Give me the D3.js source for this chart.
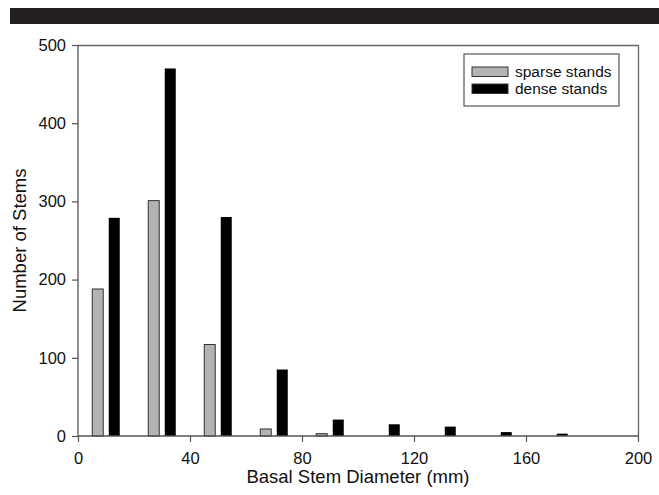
<!DOCTYPE html>
<html>
<head>
<meta charset="utf-8">
<script src="https://cdn.jsdelivr.net/npm/d3@7"></script>
<style>
  body { margin: 0; background: #fff; }
  svg text { font-family: 'Liberation Sans', Arial, sans-serif; fill: #111; }
</style>
</head>
<body>
<div id="chart"></div>
<script>
// bin midpoints (mm) and stem counts per bin
const binMids = [10, 30, 50, 70, 90, 110, 130, 150, 170]
const sparse = [188, 301, 117, 9, 3, 0, 0, 0, 0]
const dense = [279, 470, 280, 85, 21, 15, 12, 5, 3]
const xTicks = [0, 40, 80, 120, 160, 200]
const yTicks = [0, 100, 200, 300, 400, 500]
const seriesNames = ['sparse stands', 'dense stands']

const W = 659
const H = 495
const margin = { top: 45, right: 21, bottom: 59, left: 78 }
const width = W - margin.left - margin.right
const height = H - margin.top - margin.bottom

const svgRoot = d3
  .select('#chart')
  .append('svg')
  .attr('width', W)
  .attr('height', H)

// dark banner across the top
svgRoot
  .append('rect')
  .attr('x', 10)
  .attr('y', 8)
  .attr('width', W - 10)
  .attr('height', 16)
  .attr('fill', '#231f20')

const svg = svgRoot
  .append('g')
  .attr('transform', 'translate(' + margin.left + ',' + margin.top + ')')

const xPositionScale = d3.scaleLinear().domain([0, 200]).range([0, width])
const yPositionScale = d3.scaleLinear().domain([0, 500]).range([height, 0])

const colorScale = d3
  .scaleOrdinal()
  .domain(seriesNames)
  .range(['#b3b3b3', '#000000'])

const barW = 11
const offset = 2.95

const rows = binMids.map((m, i) => ({ mid: m, sparse: sparse[i], dense: dense[i] }))

// frame on top and right
svg
  .append('path')
  .attr('d', 'M0,0.5H' + (width + 0.5) + 'V' + height)
  .attr('fill', 'none')
  .attr('stroke', '#666')
  .attr('stroke-width', 1.3)

// sparse bars
svg
  .selectAll('.sparse')
  .data(rows.filter(d => d.sparse > 0))
  .enter()
  .append('rect')
  .attr('class', 'sparse')
  .attr('x', d => xPositionScale(d.mid - offset) - barW / 2)
  .attr('y', d => yPositionScale(d.sparse))
  .attr('width', barW)
  .attr('height', d => height - yPositionScale(d.sparse))
  .attr('fill', colorScale('sparse stands'))
  .attr('stroke', '#333')
  .attr('stroke-width', 1)

// dense bars
svg
  .selectAll('.dense')
  .data(rows.filter(d => d.dense > 0))
  .enter()
  .append('rect')
  .attr('class', 'dense')
  .attr('x', d => xPositionScale(d.mid + offset) - barW / 2)
  .attr('y', d => yPositionScale(d.dense))
  .attr('width', barW)
  .attr('height', d => height - yPositionScale(d.dense))
  .attr('fill', colorScale('dense stands'))

const xAxis = d3
  .axisBottom(xPositionScale)
  .tickValues(xTicks)
  .tickSize(6)
  .tickPadding(10)

svg
  .append('g')
  .attr('class', 'axis x-axis')
  .attr('transform', 'translate(0,' + height + ')')
  .call(xAxis)

const yAxis = d3
  .axisLeft(yPositionScale)
  .tickValues(yTicks)
  .tickSize(6)
  .tickPadding(6)

svg
  .append('g')
  .attr('class', 'axis y-axis')
  .call(yAxis)

svg.selectAll('.axis .domain').attr('stroke', '#555').attr('stroke-width', 1.3)
svg.selectAll('.axis line').attr('stroke', '#555').attr('stroke-width', 1.2)
svg.selectAll('.axis text').style('font-size', '16.5px').attr('fill', '#111')
svg.select('.x-axis .domain').attr('d', 'M0,0H' + width)
svg.select('.y-axis .domain').attr('d', 'M0,0V' + height)

// axis titles
svg
  .append('text')
  .attr('x', width / 2)
  .attr('y', height + 47)
  .attr('text-anchor', 'middle')
  .style('font-size', '18.5px')
  .text('Basal Stem Diameter (mm)')

svg
  .append('text')
  .attr('transform', 'translate(-52,' + height / 2 + ') rotate(-90)')
  .attr('text-anchor', 'middle')
  .style('font-size', '18.5px')
  .text('Number of Stems')

// legend
const legend = svg.append('g').attr('transform', 'translate(386,9)')

legend
  .append('rect')
  .attr('width', 155)
  .attr('height', 52)
  .attr('fill', '#fff')
  .attr('stroke', '#555')
  .attr('stroke-width', 1.2)

seriesNames.forEach((name, i) => {
  legend
    .append('rect')
    .attr('x', 8)
    .attr('y', 13 + i * 17)
    .attr('width', 36)
    .attr('height', 9.5)
    .attr('fill', colorScale(name))
    .attr('stroke', '#333')
    .attr('stroke-width', 1)
  legend
    .append('text')
    .attr('x', 51)
    .attr('y', 23 + i * 17)
    .style('font-size', '15.5px')
    .text(name)
})
</script>
</body>
</html>
